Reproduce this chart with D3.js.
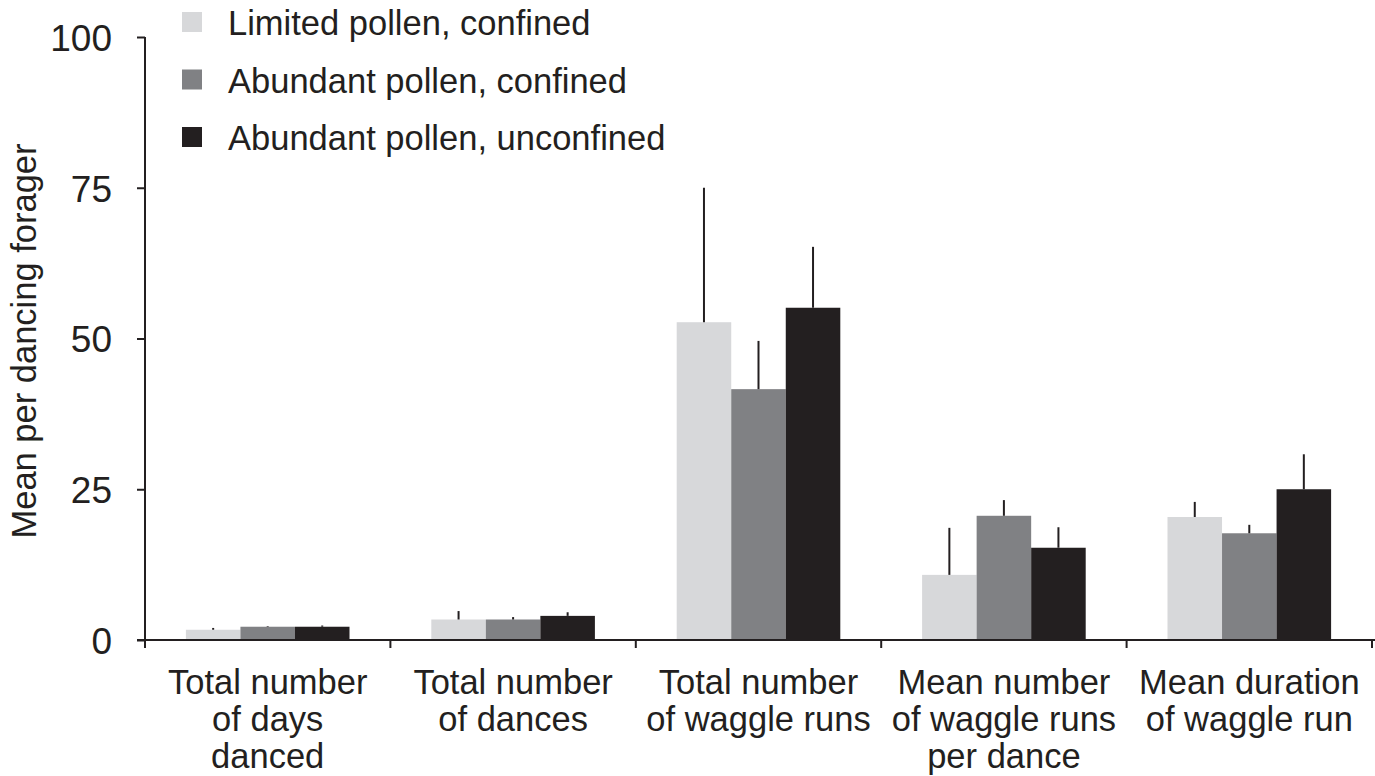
<!DOCTYPE html>
<html>
<head>
<meta charset="utf-8">
<script src="https://cdn.jsdelivr.net/npm/d3@7"></script>
<style>
  body { margin: 0; background: #fff; }
  text { font-family: "Liberation Sans", Arial, Helvetica, sans-serif; fill: #231f20; }
</style>
</head>
<body>
<div id="chart"></div>
<script>
// categories on x, and the three treatments
const categories = [
  ["Total number", "of days", "danced"],
  ["Total number", "of dances"],
  ["Total number", "of waggle runs"],
  ["Mean number", "of waggle runs", "per dance"],
  ["Mean duration", "of waggle run"]
];
const seriesNames = ["Limited pollen, confined", "Abundant pollen, confined", "Abundant pollen, unconfined"];

// means per treatment
const limitedConfined    = [1.7, 3.4, 52.7, 10.8, 20.4];
const abundantConfined   = [2.2, 3.4, 41.6, 20.6, 17.7];
const abundantUnconfined = [2.2, 4.0, 55.1, 15.3, 25.0];
// standard errors (upper bar only)
const limitedConfinedSE    = [0.3, 1.4, 22.3, 7.8, 2.5];
const abundantConfinedSE   = [0.1, 0.4, 8.0, 2.6, 1.4];
const abundantUnconfinedSE = [0.2, 0.6, 10.1, 3.4, 5.8];

const yTicks = [0, 25, 50, 75, 100];

const colors = ["#d7d8da", "#808184", "#231f20"];
const ink = "#231f20";

const width = 1375, height = 776;
const plotLeft = 145, plotRight = 1372, plotTop = 37, plotBottom = 640;
const fontSize = "34.5px";

const means = [limitedConfined, abundantConfined, abundantUnconfined];
const errs = [limitedConfinedSE, abundantConfinedSE, abundantUnconfinedSE];

const svg = d3.select("#chart").append("svg")
    .attr("width", width)
    .attr("height", height);

const catKeys = categories.map((c, i) => i);

const x0 = d3.scaleBand()
    .domain(catKeys)
    .range([plotLeft, plotRight])
    .padding(0);

const x1 = d3.scaleBand()
    .domain(d3.range(seriesNames.length))
    .range([0, x0.bandwidth()])
    .paddingInner(0)
    .paddingOuter(0.75);

const y = d3.scaleLinear()
    .domain([0, 100])
    .range([plotBottom, plotTop]);

// flatten into rows for drawing
const rows = [];
catKeys.forEach(function(c) {
    means.forEach(function(m, s) {
        rows.push({ cat: c, s: s, value: m[c], se: errs[s][c] });
    });
});

// bars
svg.append("g").selectAll("rect")
    .data(rows)
    .enter().append("rect")
    .attr("x", d => x0(d.cat) + x1(d.s))
    .attr("y", d => y(d.value))
    .attr("width", x1.bandwidth())
    .attr("height", d => y(0) - y(d.value))
    .attr("fill", d => colors[d.s]);

// error bars, upward only
svg.append("g").selectAll("line")
    .data(rows)
    .enter().append("line")
    .attr("x1", d => x0(d.cat) + x1(d.s) + x1.bandwidth() / 2)
    .attr("x2", d => x0(d.cat) + x1(d.s) + x1.bandwidth() / 2)
    .attr("y1", d => y(d.value))
    .attr("y2", d => y(d.value + d.se))
    .attr("stroke", ink)
    .attr("stroke-width", 2);

// y axis
const yAxis = svg.append("g")
    .attr("transform", "translate(" + plotLeft + ",0)")
    .call(d3.axisLeft(y).tickValues(yTicks).tickSize(8).tickPadding(25).tickSizeOuter(0));
yAxis.select(".domain").remove();
yAxis.append("line")
    .attr("x1", 0).attr("x2", 0)
    .attr("y1", y(100)).attr("y2", plotBottom + 8)
    .attr("stroke", ink).attr("stroke-width", 2);
yAxis.selectAll(".tick line").attr("stroke", ink).attr("stroke-width", 2);
yAxis.selectAll(".tick text")
    .style("font-size", "37px")
    .attr("fill", ink)
    .attr("dy", "0.36em");

// x axis baseline and ticks at band boundaries
svg.append("line")
    .attr("x1", plotLeft - 8).attr("x2", width)
    .attr("y1", plotBottom).attr("y2", plotBottom)
    .attr("stroke", ink).attr("stroke-width", 2);

svg.append("g").selectAll("line")
    .data(catKeys.slice(1).concat([catKeys.length]))
    .enter().append("line")
    .attr("x1", d => d < catKeys.length ? x0(d) : x0(d - 1) + x0.bandwidth())
    .attr("x2", d => d < catKeys.length ? x0(d) : x0(d - 1) + x0.bandwidth())
    .attr("y1", plotBottom)
    .attr("y2", plotBottom + 8)
    .attr("stroke", ink).attr("stroke-width", 2);

// category labels
const labels = svg.append("g").selectAll("text")
    .data(categories)
    .enter().append("text")
    .attr("text-anchor", "middle")
    .attr("transform", (d, i) => "translate(" + (x0(i) + x0.bandwidth() / 2) + ",694)")
    .style("font-size", fontSize);
labels.selectAll("tspan")
    .data(d => d)
    .enter().append("tspan")
    .attr("x", 0)
    .attr("y", (d, i) => i * 37)
    .text(d => d);

// y title
svg.append("text")
    .attr("transform", "translate(36,341) rotate(-90)")
    .attr("text-anchor", "middle")
    .style("font-size", fontSize)
    .text("Mean per dancing forager");

// legend
const legend = svg.append("g").selectAll("g")
    .data(seriesNames)
    .enter().append("g")
    .attr("transform", (d, i) => "translate(182," + (12 + i * 57.5) + ")");
legend.append("rect")
    .attr("width", 20)
    .attr("height", 20)
    .attr("fill", (d, i) => colors[i]);
legend.append("text")
    .attr("x", 46)
    .attr("y", 23)
    .style("font-size", fontSize)
    .text(d => d);
</script>
</body>
</html>
